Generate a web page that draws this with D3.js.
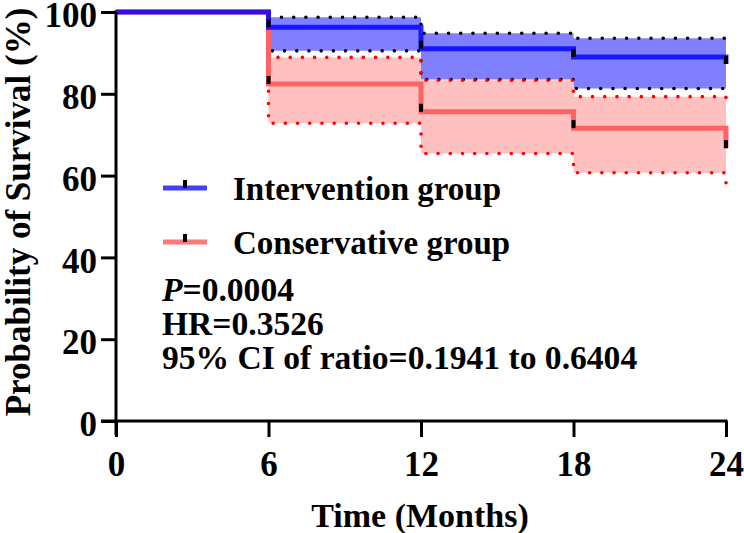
<!DOCTYPE html>
<html>
<head>
<meta charset="utf-8">
<script src="https://cdn.jsdelivr.net/npm/d3@7"></script>
<style>
  body { margin: 0; background: #fff; }
  text { font-family: "Times New Roman", "Liberation Serif", serif; font-weight: bold; }
</style>
</head>
<body>
<div class="chart"></div>
<script>
// survival data (months, %)
const times = [0, 6, 12, 18, 24];
const interSurv = [100, 96.3, 91.0, 89.0, 87.3];
const interUpper = [100, 98.7, 94.8, 93.6, 92.6];
const interLower = [100, 90.5, 83.5, 81.3, 79.6];
const consSurv = [100, 82.4, 75.6, 71.6, 66.7];
const consUpper = [100, 88.9, 83.3, 79.3, 78.3];
const consLower = [100, 72.8, 65.4, 60.7, 56.3];
const censorTimes = [6, 12, 18, 24];

const xTicks = [0, 6, 12, 18, 24];
const yTicks = [0, 20, 40, 60, 80, 100];
const legendLabels = ["Intervention group", "Conservative group"];
const statLines = ["=0.0004", "HR=0.3526", "95% CI of ratio=0.1941 to 0.6404"];

let width = 744,
  height = 533;

let xScale = d3.scaleLinear().domain([0, 24]).range([116, 726]);
let yScale = d3.scaleLinear().domain([0, 100]).range([421, 12]);

let svg = d3
  .select(".chart")
  .append("svg")
  .attr("width", width)
  .attr("height", height);

function rows(surv) {
  return times.map((t, i) => ({ t: t, v: surv[i] }));
}

let band = d3
  .area()
  .curve(d3.curveStepAfter)
  .x((d) => xScale(d.t))
  .y0((d) => yScale(d.lo))
  .y1((d) => yScale(d.hi));

let line = d3
  .line()
  .curve(d3.curveStepAfter)
  .x((d) => xScale(d.t))
  .y((d) => yScale(d.v));

let groups = [
  { surv: interSurv, up: interUpper, lo: interLower, line: "#0000ff", lineOp: 0.82, fill: "#8080ff", dot: "#000" },
  { surv: consSurv, up: consUpper, lo: consLower, line: "#ff6262", lineOp: 1, fill: "#ffc0c0", dot: "#ff0000" },
];

// CI bands
groups.forEach((g) => {
  svg
    .append("path")
    .datum(times.map((t, i) => ({ t: t, lo: g.lo[i], hi: g.up[i] })))
    .attr("d", band)
    .attr("fill", g.fill);
});

// dotted CI limits
groups.forEach((g) => {
  [g.up, g.lo].forEach((arr) => {
    svg
      .append("path")
      .datum(rows(arr))
      .attr("d", line)
      .attr("fill", "none")
      .attr("stroke", g.dot)
      .attr("stroke-width", 3.6)
      .attr("stroke-linecap", "round")
      .attr("stroke-dasharray", "0 12.2");
  });
});

// survival curves, conservative first so the blue one lies on top
[groups[1], groups[0]].forEach((g) => {
  svg
    .append("path")
    .datum(rows(g.surv))
    .attr("d", line)
    .attr("fill", "none")
    .attr("stroke", g.line)
    .attr("stroke-opacity", g.lineOp)
    .attr("stroke-width", 5);
});

// censor marks
groups.forEach((g) => {
  svg
    .selectAll(null)
    .data(censorTimes)
    .enter()
    .append("rect")
    .attr("x", (d) => xScale(d) - 2)
    .attr("y", (d) => yScale(g.surv[times.indexOf(d)]) - 8)
    .attr("width", 4)
    .attr("height", 8)
    .attr("fill", "#000");
});

// axes
let xAxis = d3.axisBottom(xScale).tickValues(xTicks).tickSize(16).tickSizeOuter(0).tickPadding(14);
let yAxis = d3.axisLeft(yScale).tickValues(yTicks).tickSize(15).tickSizeOuter(0).tickPadding(4);

let gx = svg
  .append("g")
  .attr("transform", "translate(0," + yScale(0) + ")")
  .call(xAxis);
let gy = svg
  .append("g")
  .attr("transform", "translate(" + xScale(0) + ",0)")
  .call(yAxis);

[gx, gy].forEach((g) => {
  g.selectAll("path, line").attr("stroke", "#000").attr("stroke-width", 3);
  g.selectAll("text").attr("fill", "#000").style("font-size", "35px");
});
gy.selectAll("text").attr("dy", "0.42em");
gy.select(".domain").attr("d", "M0," + yScale(100) + "V" + (yScale(0) + 14));
gx.select(".domain").attr("d", "M" + (xScale(0) - 15) + ",0H" + (xScale(24) + 1.5));

// axis titles
svg
  .append("text")
  .attr("x", 420)
  .attr("y", 527)
  .attr("text-anchor", "middle")
  .style("font-size", "34px")
  .text("Time (Months)");

svg
  .append("text")
  .attr("transform", "translate(30,212) rotate(-90)")
  .attr("text-anchor", "middle")
  .style("font-size", "35px")
  .text("Probability of Survival (%)");

// legend
let legendY = [188, 242];
legendLabels.forEach((label, i) => {
  let g = groups[i];
  svg
    .append("line")
    .attr("x1", 163)
    .attr("x2", 207)
    .attr("y1", legendY[i])
    .attr("y2", legendY[i])
    .attr("stroke", g.line)
    .attr("stroke-opacity", i === 0 ? 0.75 : 0.85)
    .attr("stroke-width", 5);
  svg
    .append("rect")
    .attr("x", 183)
    .attr("y", legendY[i] - 8)
    .attr("width", 4)
    .attr("height", 8)
    .attr("fill", "#000");
  svg
    .append("text")
    .attr("x", 233)
    .attr("y", legendY[i] + 12)
    .style("font-size", "33px")
    .text(label);
});

// statistics
let statY = [301, 335, 369];
statLines.forEach((s, i) => {
  let t = svg
    .append("text")
    .attr("x", 162)
    .attr("y", statY[i])
    .style("font-size", "33.6px");
  if (i === 0) {
    t.append("tspan").style("font-style", "italic").text("P");
  }
  t.append("tspan").text(s);
});
</script>
</body>
</html>
